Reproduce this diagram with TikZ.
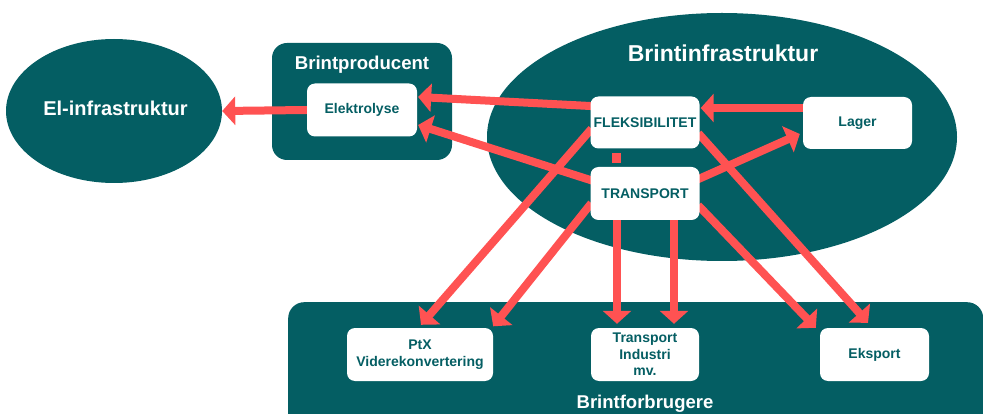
\documentclass[tikz,border=0pt]{standalone}
\usepackage{fontspec}
\setmainfont{Liberation Sans}
\usetikzlibrary{shapes.geometric,arrows.meta,calc}
\definecolor{teal0}{HTML}{045E63}
\definecolor{arrred}{HTML}{FF5252}
\pgfdeclarelayer{bg}
\pgfdeclarelayer{arr}
\pgfsetlayers{bg,arr,main}
\begin{document}
\begin{tikzpicture}[x=1pt,y=-1pt,
  wbox/.style={fill=white,draw=none,rounded corners=8pt,
    font=\bfseries\fontsize{14}{16.5}\selectfont,text=teal0,align=center,inner sep=0pt},
  ttl/.style={text=white,anchor=base,inner sep=0pt},
  arrw/.style={draw=arrred,line width=8pt,-{Triangle[width=28pt,length=13pt]},shorten <=-5pt},
  link/.style={draw=arrred,line width=8.5pt}]
\useasboundingbox (0,0) rectangle (983,414);
\clip (0,0) rectangle (983,414);
\begin{pgfonlayer}{bg}
\node[ellipse,fill=teal0,minimum width=216pt,minimum height=144pt,inner sep=0pt] (el) at (114,111) {};
\node[ttl,font=\bfseries\fontsize{20}{24}\selectfont] (elt) at (115.5,116) {El-infrastruktur};
\node[fill=teal0,rounded corners=15pt,minimum width=180pt,minimum height=117pt,inner sep=0pt] (prod) at (362,101.5) {};
\node[ttl,font=\bfseries\fontsize{18.6}{22}\selectfont] (prodt) at (362,70) {Brintproducent};
\node[ellipse,fill=teal0,minimum width=470pt,minimum height=248pt,inner sep=0pt] (infra) at (722,137) {};
\node[ttl,font=\bfseries\fontsize{23}{27}\selectfont] (infrat) at (723,62) {Brintinfrastruktur};
\node[fill=teal0,rounded corners=16pt,minimum width=695pt,minimum height=150pt,inner sep=0pt,anchor=north west] (forb) at (288,302) {};
\node[ttl,font=\bfseries\fontsize{18.5}{22}\selectfont] (forbt) at (645,408.5) {Brintforbrugere};
\end{pgfonlayer}
\node[wbox,minimum width=110pt,minimum height=53pt] (elek) at (362,110) {Elektrolyse};
\node[wbox,minimum width=109pt,minimum height=52pt] (fleks) at (645,122.5) {FLEKSIBILITET};
\node[wbox,minimum width=109pt,minimum height=53pt] (trans) at (645,193.5) {TRANSPORT};
\node[wbox,minimum width=109pt,minimum height=52pt] (lager) at (857.5,123) {Lager};
\node[wbox,minimum width=146pt,minimum height=53pt] (ptx) at (420,354.5) {PtX\\Viderekonvertering};
\node[wbox,minimum width=108pt,minimum height=53pt] (tim) at (645,354.5) {Transport\\Industri\\mv.};
\node[wbox,minimum width=109pt,minimum height=53pt] (eks) at (874.5,354.5) {Eksport};
\begin{pgfonlayer}{arr}
\draw[arrw] (elek.west) -- (el.east);
\draw[arrw] ($(fleks.west)+(0,-16.5)$) -- ($(elek.east)+(1,-13)$);
\draw[arrw] ($(trans.west)+(0,-13.5)$) -- ($(elek.east)+(1,15)$);
\draw[arrw] ($(fleks.west)+(-2,10)$) -- ($(ptx.north)+(1,-3)$);
\draw[arrw] ($(trans.west)+(-2,13.5)$) -- ($(ptx.north east)+(0,-1.5)$);
\draw[arrw] ($(trans.south)+(-28,0)$) -- ($(tim.north)+(-28,-4)$);
\draw[arrw] ($(trans.south)+(29,0)$) -- ($(tim.north)+(29,-4)$);
\draw[arrw] ($(trans.east)+(0,-15)$) -- ($(lager.west)+(-3,11)$);
\draw[arrw] ($(lager.west)+(0,-15)$) -- ($(fleks.east)+(1,-14.5)$);
\draw[arrw] ($(fleks.east)+(2,14.5)$) -- ($(eks.north)+(-6.5,-5)$);
\draw[arrw] ($(trans.east)+(2,15.5)$) -- ($(eks.north west)+(-4,0)$);
\draw[link,shorten <=4.5pt,shorten >=4pt] ($(fleks.south)+(-28.5,0)$) -- ($(trans.north)+(-28.5,0)$);
\end{pgfonlayer}
\end{tikzpicture}
\end{document}
